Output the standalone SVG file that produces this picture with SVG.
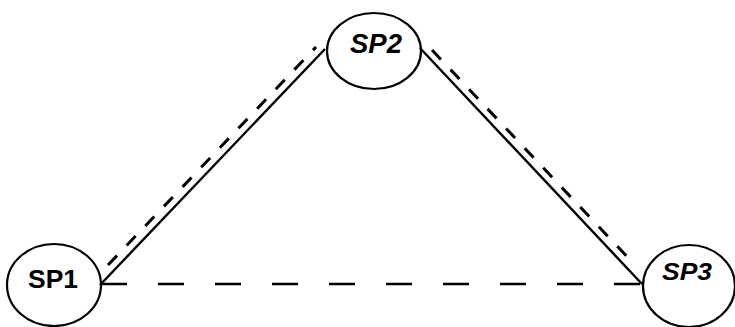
<svg xmlns="http://www.w3.org/2000/svg" width="735" height="327" viewBox="0 0 735 327">
<style>
.node{fill:none;stroke:#000;stroke-width:2.2}
.lbl{font-family:"Liberation Sans",Arial,sans-serif;font-weight:bold;fill:#000;text-anchor:middle}
.solid{stroke:#000;stroke-width:2.4;fill:none}
.dash{stroke:#000;stroke-width:3;fill:none;stroke-dasharray:13 14}
.hdash{stroke:#000;stroke-width:2.6;fill:none;stroke-dasharray:26 31}
</style>
<rect width="735" height="327" fill="#fff"/>
<g id="connectors">
<line class="solid" x1="100" y1="285" x2="325" y2="49"/>
<line class="dash" x1="108" y1="265" x2="316" y2="47"/>
<line class="solid" x1="420" y1="48" x2="642" y2="284"/>
<line class="dash" x1="432" y1="50" x2="634" y2="264"/>
<line class="hdash" x1="101" y1="284" x2="642" y2="284"/>
</g>
<g id="SP1">
<ellipse class="node" cx="54" cy="285" rx="47" ry="41"/>
<text class="lbl" x="53" y="288" font-size="26" textLength="50" lengthAdjust="spacingAndGlyphs">SP1</text>
</g>
<g id="SP2">
<ellipse class="node" cx="374" cy="51" rx="47" ry="38"/>
<text class="lbl" x="376" y="53" font-size="27" font-style="italic" textLength="52" lengthAdjust="spacingAndGlyphs">SP2</text>
</g>
<g id="SP3">
<ellipse class="node" cx="689" cy="286" rx="46" ry="41"/>
<text class="lbl" x="687" y="280" font-size="23" font-style="italic" textLength="50" lengthAdjust="spacingAndGlyphs">SP3</text>
</g>
</svg>
